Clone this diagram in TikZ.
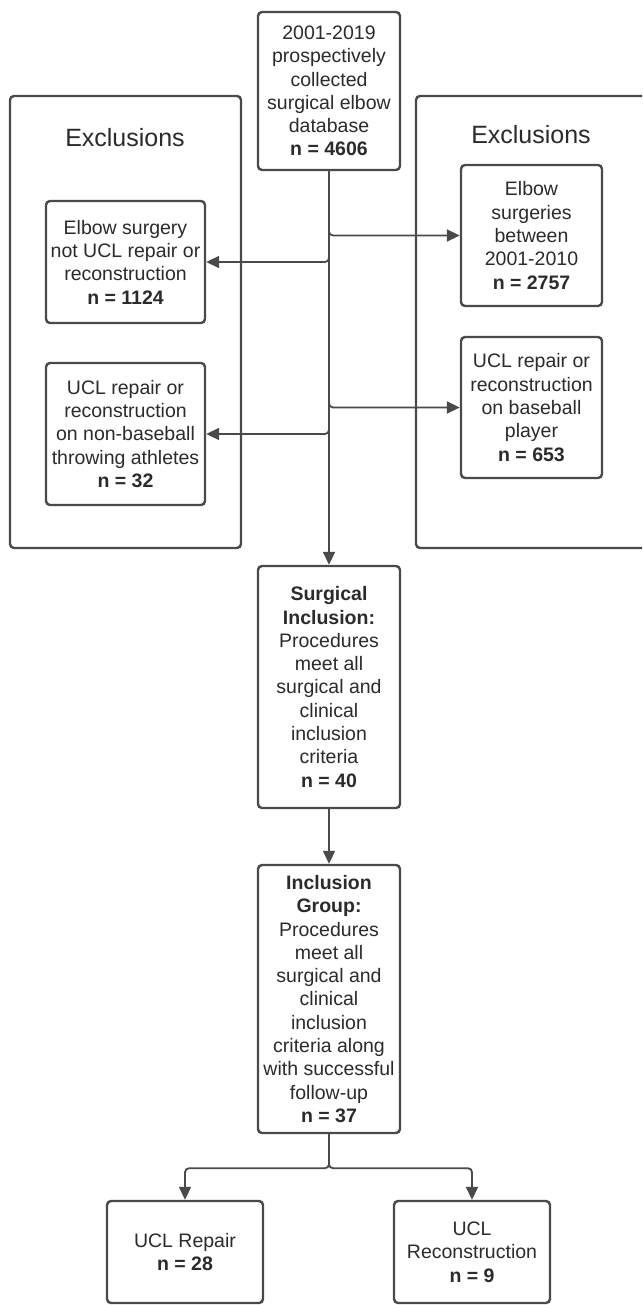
\documentclass[tikz,border=0pt]{standalone}
\usepackage{fontspec}
\setmainfont{Liberation Sans}
\usetikzlibrary{arrows.meta}
\definecolor{linec}{HTML}{4A4A4A}
\definecolor{textc}{HTML}{2B2B2B}
\tikzset{
  box/.style={draw=linec, line width=2.4pt, rounded corners=4pt, inner sep=0pt, align=center,
    text=textc, font=\fontsize{19.5}{23.3}\selectfont},
  bigbox/.style={draw=linec, line width=2.4pt, rounded corners=4pt, inner sep=0pt},
  title/.style={text=textc, font=\fontsize{25}{30}\selectfont, inner sep=0pt},
  conn/.style={draw=linec, line width=1.8pt, rounded corners=4pt,
    -{Triangle[length=13pt,width=12pt]}},
}
\begin{document}
\begin{tikzpicture}[x=1pt,y=-1pt]
\clip (0,0) rectangle (642,1305);
\fill[white] (0,0) rectangle (642,1305);
% big exclusion frames
\node[bigbox, minimum width=231pt, minimum height=452pt] (exL) at (125.5,322) {};
\node[bigbox, minimum width=264pt, minimum height=452pt] (exR) at (548,322) {};
\node[title] (exLt) at (125,138) {Exclusions};
\node[title] (exRt) at (531,135) {Exclusions};
% boxes
\node[box, minimum width=142pt, minimum height=158pt] (top) at (329,91)
  {2001-2019\\prospectively\\collected\\surgical elbow\\database\\\textbf{n = 4606}};
\node[box, minimum width=159pt, minimum height=122pt] (l1) at (125.5,262)
  {Elbow surgery\\not UCL repair or\\reconstruction\\\textbf{n = 1124}};
\node[box, minimum width=159pt, minimum height=142pt] (l2) at (125.5,434)
  {UCL repair or\\reconstruction\\on non-baseball\\throwing athletes\\\textbf{n = 32}};
\node[box, minimum width=141pt, minimum height=141pt] (r1) at (531.5,235.5)
  {Elbow\\surgeries\\between\\2001-2010\\\textbf{n = 2757}};
\node[box, minimum width=141pt, minimum height=141pt] (r2) at (531.5,407.5)
  {UCL repair or\\reconstruction\\on baseball\\player\\\textbf{n = 653}};
\node[box, minimum width=142pt, minimum height=242pt] (surg) at (329,687)
  {\textbf{Surgical}\\\textbf{Inclusion:}\\Procedures\\meet all\\surgical and\\clinical\\inclusion\\criteria\\\textbf{n = 40}};
\node[box, minimum width=142pt, minimum height=268pt] (incl) at (329,999)
  {\textbf{Inclusion}\\\textbf{Group:}\\Procedures\\meet all\\surgical and\\clinical\\inclusion\\criteria along\\with successful\\follow-up\\\textbf{n = 37}};
\node[box, minimum width=156pt, minimum height=102pt] (rep) at (185,1252)
  {UCL Repair\\\textbf{n = 28}};
\node[box, minimum width=156pt, minimum height=102pt] (rec) at (472,1252)
  {UCL\\Reconstruction\\\textbf{n = 9}};
% connectors
\draw[conn] (top.south) |- (r1.west);
\draw[conn] (top.south) |- (l1.east);
\draw[conn] (top.south) |- (r2.west);
\draw[conn] (top.south) |- (l2.east);
\draw[conn] (top.south) -- (surg.north);
\draw[conn] (surg.south) -- (incl.north);
\draw[conn] (incl.south) -- ++(0,34) -| (rep.north);
\draw[conn] (incl.south) -- ++(0,34) -| (rec.north);
\end{tikzpicture}
\end{document}
